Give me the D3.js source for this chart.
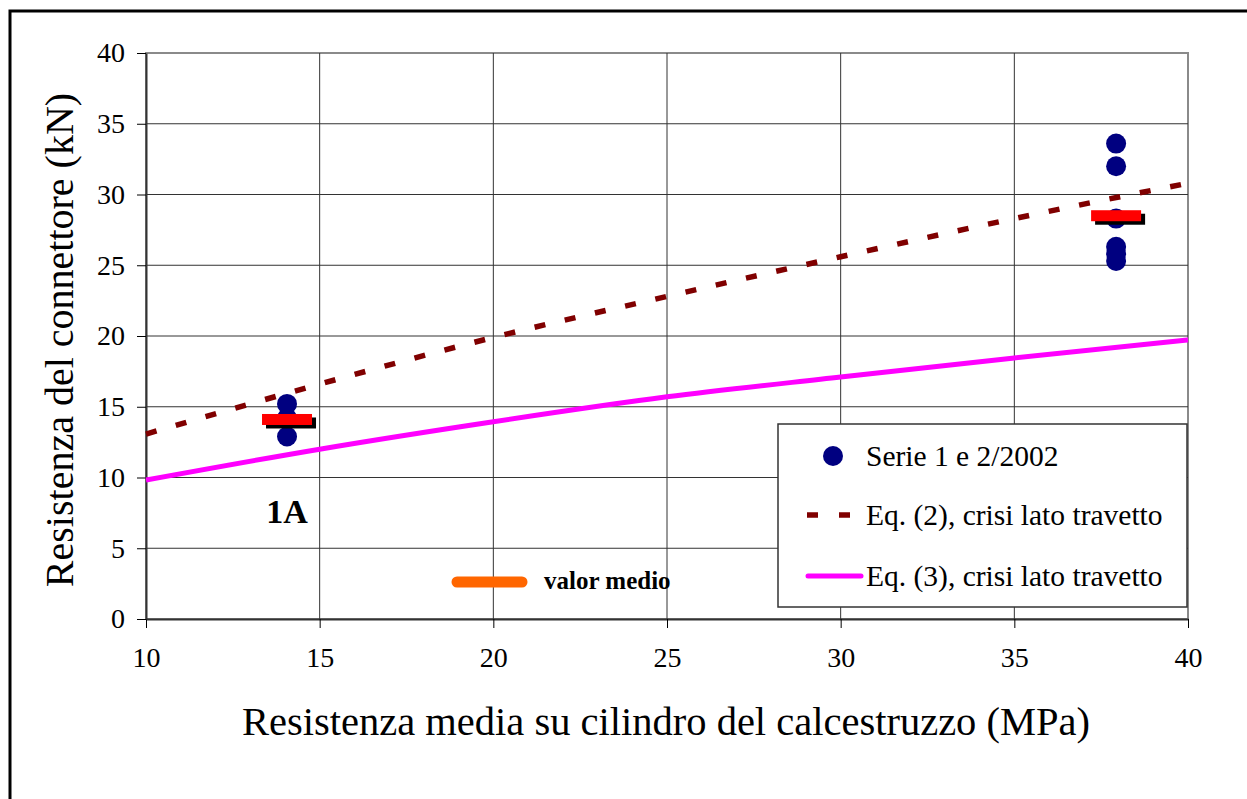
<!DOCTYPE html>
<html>
<head>
<meta charset="utf-8">
<script src="https://cdn.jsdelivr.net/npm/d3@7"></script>
<style>
body{margin:0;background:#fff;overflow:hidden}
svg text{font-family:"Liberation Serif","Times New Roman",serif;fill:#000}
</style>
</head>
<body>
<svg id="chart"></svg>
<script>
// ticks
const xTicks = [10, 15, 20, 25, 30, 35, 40]
const yTicks = [0, 5, 10, 15, 20, 25, 30, 35, 40]

// test results (Serie 1 e 2/2002)
const testX = [14.06, 14.06, 14.06, 37.93, 37.93, 37.93, 37.93, 37.93, 37.93]
const testY = [15.2, 14.2, 12.9, 33.6, 32.0, 28.3, 26.3, 25.8, 25.3]

// mean values
const meanX = [14.06, 37.93]
const meanY = [14.1, 28.5]

// design equations
const eqX = [10, 15, 20, 25, 30, 35, 40]
const eq2Y = [13.07, 16.6, 19.9, 22.8, 25.6, 28.3, 30.8]
const eq3Y = [9.82, 12.0, 13.94, 15.7, 17.1, 18.45, 19.72]

const legendNames = ['Serie 1 e 2/2002', 'Eq. (2), crisi lato travetto', 'Eq. (3), crisi lato travetto']

const width = 1247
const height = 799
const margin = ({top: 53, right: 59, bottom: 180, left: 146})

const svg = d3.select('#chart')
    .attr('width', width)
    .attr('height', height)

// outer frame
svg.append('rect')
    .attr('x', 10).attr('y', 11)
    .attr('width', 1400).attr('height', 1000)
    .attr('fill', 'none')
    .attr('stroke', '#000')
    .attr('stroke-width', 3)

const x = d3.scaleLinear()
    .domain([10, 40])
    .range([margin.left, width - margin.right])

const y = d3.scaleLinear()
    .domain([0, 40])
    .range([height - margin.bottom, margin.top])

// plot frame
svg.append('rect')
    .attr('x', x(10)).attr('y', y(40))
    .attr('width', x(40) - x(10)).attr('height', y(0) - y(40))
    .attr('fill', 'none')
    .attr('stroke', '#8a8a8a')
    .attr('stroke-width', 2)

// grid
svg.append('g')
    .selectAll('line')
    .data(xTicks.slice(1, -1))
    .join('line')
        .attr('x1', d => x(d)).attr('x2', d => x(d))
        .attr('y1', y(0)).attr('y2', y(40))
        .attr('stroke', '#333').attr('stroke-width', 1)

svg.append('g')
    .selectAll('line')
    .data(yTicks.slice(1, -1))
    .join('line')
        .attr('x1', x(10)).attr('x2', x(40))
        .attr('y1', d => y(d)).attr('y2', d => y(d))
        .attr('stroke', '#333').attr('stroke-width', 1)

// x-axis
svg.append('g')
    .attr('transform', `translate(0, ${y(0)})`)
    .call(d3.axisBottom(x).tickValues(xTicks).tickSize(9).tickPadding(19).tickSizeOuter(0))
    .call(g => g.select('.domain').attr('stroke', '#333').attr('stroke-width', 2))
    .call(g => g.selectAll('.tick line').attr('stroke', '#000'))
    .call(g => g.selectAll('.tick text').attr('font-size', 28))

// y-axis
svg.append('g')
    .attr('transform', `translate(${x(10)}, 0)`)
    .call(d3.axisLeft(y).tickValues(yTicks).tickSize(9).tickPadding(12).tickSizeOuter(0))
    .call(g => g.select('.domain').attr('stroke', '#333').attr('stroke-width', 2))
    .call(g => g.selectAll('.tick line').attr('stroke', '#000'))
    .call(g => g.selectAll('.tick text').attr('font-size', 28))

// axis titles
svg.append('text')
    .attr('x', 666).attr('y', 735)
    .attr('text-anchor', 'middle')
    .attr('font-size', 40.5)
    .text('Resistenza media su cilindro del calcestruzzo (MPa)')

svg.append('text')
    .attr('transform', 'translate(73, 340) rotate(-90)')
    .attr('text-anchor', 'middle')
    .attr('font-size', 40)
    .text('Resistenza del connettore (kN)')

// lines
const line = d3.line()
    .x((d, i) => x(eqX[i]))
    .y(d => y(d))
    .curve(d3.curveMonotoneX)

svg.append('path')
    .datum(eq3Y)
    .attr('fill', 'none')
    .attr('stroke', '#ff00ff')
    .attr('stroke-width', 5)
    .attr('d', line)

svg.append('path')
    .datum(eq2Y)
    .attr('fill', 'none')
    .attr('stroke', '#800000')
    .attr('stroke-width', 5.5)
    .attr('stroke-dasharray', '11,20')
    .attr('d', line)

// points
svg.append('g')
    .selectAll('circle')
    .data(testY)
    .join('circle')
        .attr('cx', (d, i) => x(testX[i]))
        .attr('cy', d => y(d))
        .attr('r', 10)
        .attr('fill', '#000080')

// mean markers (black shadow + red bar)
const means = svg.append('g')
means.selectAll('rect.shadow')
    .data(meanY)
    .join('rect')
        .attr('class', 'shadow')
        .attr('x', (d, i) => x(meanX[i]) - 25 + 4)
        .attr('y', d => y(d) - 5.5 + 3.5)
        .attr('width', 50).attr('height', 11)
        .attr('fill', '#000')
means.selectAll('rect.bar')
    .data(meanY)
    .join('rect')
        .attr('class', 'bar')
        .attr('x', (d, i) => x(meanX[i]) - 25)
        .attr('y', d => y(d) - 5.5)
        .attr('width', 50).attr('height', 11)
        .attr('fill', '#ff0000')

// "1A" label
svg.append('text')
    .attr('x', 287).attr('y', 523)
    .attr('text-anchor', 'middle')
    .attr('font-size', 34)
    .attr('font-weight', 'bold')
    .text('1A')

// "valor medio" key
svg.append('line')
    .attr('x1', 457).attr('x2', 522)
    .attr('y1', 582).attr('y2', 582)
    .attr('stroke', '#ff6600')
    .attr('stroke-width', 11)
    .attr('stroke-linecap', 'round')
svg.append('text')
    .attr('x', 544).attr('y', 589)
    .attr('font-size', 25)
    .attr('font-weight', 'bold')
    .text('valor medio')

// legend
const legend = svg.append('g')
    .attr('transform', 'translate(778, 424)')

legend.append('rect')
    .attr('width', 409).attr('height', 183)
    .attr('fill', '#fff')
    .attr('stroke', '#333')
    .attr('stroke-width', 1.5)

const rowY = [32, 91, 152]

legend.append('circle')
    .attr('cx', 55).attr('cy', rowY[0])
    .attr('r', 10)
    .attr('fill', '#000080')

legend.append('line')
    .attr('x1', 29).attr('x2', 72)
    .attr('y1', rowY[1]).attr('y2', rowY[1])
    .attr('stroke', '#800000')
    .attr('stroke-width', 5.5)
    .attr('stroke-dasharray', '11,21')

legend.append('line')
    .attr('x1', 30).attr('x2', 83)
    .attr('y1', rowY[2]).attr('y2', rowY[2])
    .attr('stroke', '#ff00ff')
    .attr('stroke-width', 5)
    .attr('stroke-linecap', 'round')

legend.selectAll('text')
    .data(legendNames)
    .join('text')
        .attr('x', 88)
        .attr('y', (d, i) => rowY[i] + 10)
        .attr('font-size', 29.5)
        .text(d => d)
</script>
</body>
</html>
